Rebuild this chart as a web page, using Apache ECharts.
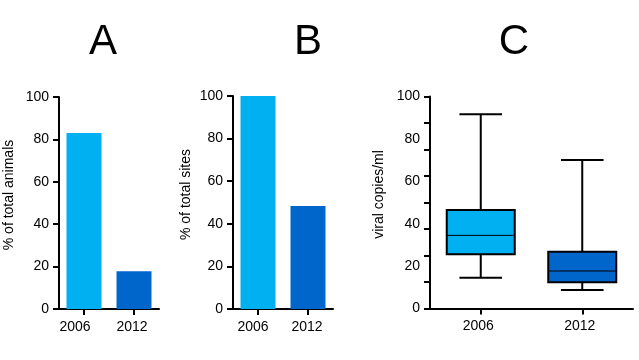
<!DOCTYPE html>
<html>
<head>
<meta charset="utf-8">
<script src="https://cdn.jsdelivr.net/npm/echarts@6/dist/echarts.min.js"></script>
<style>
html,body{margin:0;padding:0;background:#fff;}
#chart{width:639px;height:360px;}
</style>
</head>
<body>
<div id="chart"></div>
<script>
// ---- data ----
var years = ['2006', '2012'];
var animalsPct = [83, 17.8];
var sitesPct = [100, 48.3];
// boxplot: [min, Q1, median, Q3, max]
var viral2006 = [14.5, 25.6, 34.5, 46.5, 91.6];
var viral2012 = [8.7, 12.4, 17.7, 26.8, 70];
var panelTitles = ['A', 'B', 'C'];
var tickLabels = [0, 20, 40, 60, 80, 100];

var lightBlue = '#00b0f0';
var darkBlue = '#0066cc';
var FONT = 'Arial, "Liberation Sans", sans-serif';

var chart = echarts.init(document.getElementById('chart'), null, {renderer: 'canvas'});

function yAxisBase(gridIndex, name, gap) {
  return {
    type: 'value', gridIndex: gridIndex, min: 0, max: 100, interval: 20,
    name: name, nameLocation: 'middle', nameGap: gap, nameRotate: 90,
    nameTextStyle: {fontFamily: FONT, fontSize: 14, color: '#000', padding: [0, 0, 0, 16]},
    axisLine: {show: true, lineStyle: {color: '#000', width: 2}},
    axisTick: {show: true, length: 6, lineStyle: {color: '#000', width: 2}},
    axisLabel: {fontFamily: FONT, fontSize: 14, color: '#000', margin: 10},
    splitLine: {show: false}
  };
}
// leftShift: per-label horizontal nudge (px) to the left, matching the reference's label placement
function xAxisBase(gridIndex, leftShift) {
  return {
    type: 'category', gridIndex: gridIndex, data: years, boundaryGap: true,
    axisLine: {show: true, lineStyle: {color: '#000', width: 2}},
    axisTick: {show: true, alignWithLabel: true, interval: 0, length: 6, lineStyle: {color: '#000', width: 2}},
    axisLabel: {
      interval: 0, hideOverlap: false,
      fontFamily: FONT, fontSize: 14, color: '#000', margin: 11,
      formatter: function (v, i) { return '{s' + i + '|' + v + '}'; },
      rich: {
        s0: {fontFamily: FONT, fontSize: 14, color: '#000', padding: [0, leftShift[0] * 2, 0, 0]},
        s1: {fontFamily: FONT, fontSize: 14, color: '#000', padding: [0, leftShift[1] * 2, 0, 0]}
      }
    }
  };
}

var boxData = [[0].concat(viral2006), [1].concat(viral2012)];
var boxColors = [lightBlue, darkBlue];

var yC = yAxisBase(2, 'viral copies/ml', 44);
yC.interval = 12.5;
yC.axisLabel.customValues = tickLabels;
yC.axisLabel.formatter = function (v) { return String(Math.round(v)); };

var titleX = [103, 308, 514];

var option = {
  backgroundColor: '#fff',
  animation: false,
  graphic: panelTitles.map(function (t, i) {
    return {
      type: 'text', x: titleX[i], y: 42,
      style: {text: t, align: 'center', verticalAlign: 'middle', textAlign: 'center', textVerticalAlign: 'middle',
        font: '42px ' + FONT, fill: '#000'}
    };
  }),
  grid: [
    {left: 59, top: 97, width: 100, height: 212},
    {left: 233, top: 96, width: 100, height: 213},
    {left: 430, top: 96.5, width: 203, height: 212}
  ],
  xAxis: [xAxisBase(0, [9, 2]), xAxisBase(1, [5, 1]), xAxisBase(2, [2.5, 2.5])],
  yAxis: [yAxisBase(0, '% of total animals', 43), yAxisBase(1, '% of total sites', 40), yC],
  series: [
    {
      type: 'bar', xAxisIndex: 0, yAxisIndex: 0, barWidth: 35,
      data: animalsPct.map(function (v, i) { return {value: v, itemStyle: {color: i === 0 ? lightBlue : darkBlue}}; })
    },
    {
      type: 'bar', xAxisIndex: 1, yAxisIndex: 1, barWidth: 35,
      data: sitesPct.map(function (v, i) { return {value: v, itemStyle: {color: i === 0 ? lightBlue : darkBlue}}; })
    },
    {
      type: 'custom', xAxisIndex: 2, yAxisIndex: 2,
      data: boxData,
      encode: {x: 0, y: [1, 2, 3, 4, 5]},
      renderItem: function (params, api) {
        var idx = api.value(0);
        var band = api.size([1, 0])[0];
        var bw = band * 0.67, cw = band * 0.42;
        var pMin = api.coord([idx, api.value(1)]);
        var pQ1 = api.coord([idx, api.value(2)]);
        var pMed = api.coord([idx, api.value(3)]);
        var pQ3 = api.coord([idx, api.value(4)]);
        var pMax = api.coord([idx, api.value(5)]);
        var cx = pMin[0];
        var ls = {stroke: '#000', lineWidth: 2};
        return {
          type: 'group',
          children: [
            {type: 'line', shape: {x1: cx, y1: pMax[1], x2: cx, y2: pQ3[1]}, style: ls},
            {type: 'line', shape: {x1: cx, y1: pQ1[1], x2: cx, y2: pMin[1]}, style: ls},
            {type: 'line', shape: {x1: cx - cw / 2, y1: pMax[1], x2: cx + cw / 2, y2: pMax[1]}, style: ls},
            {type: 'line', shape: {x1: cx - cw / 2, y1: pMin[1], x2: cx + cw / 2, y2: pMin[1]}, style: ls},
            {type: 'rect', shape: {x: cx - bw / 2, y: pQ3[1], width: bw, height: pQ1[1] - pQ3[1]},
              style: {fill: boxColors[params.dataIndex], stroke: '#000', lineWidth: 2}},
            {type: 'line', shape: {x1: cx - bw / 2, y1: pMed[1], x2: cx + bw / 2, y2: pMed[1]}, style: {stroke: '#000', lineWidth: 1}}
          ]
        };
      }
    }
  ]
};
chart.setOption(option);
</script>
</body>
</html>
